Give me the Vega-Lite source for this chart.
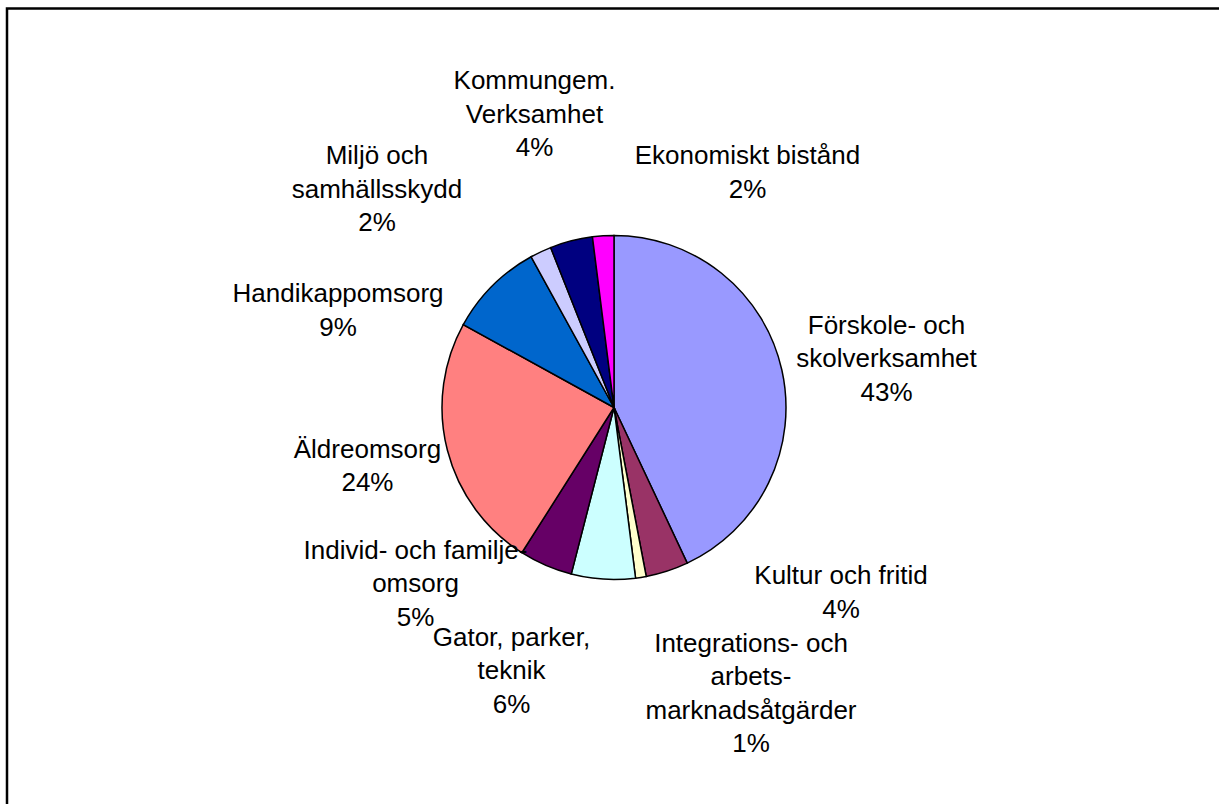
{
  "$schema": "https://vega.github.io/schema/vega-lite/v6.json",
  "autosize": {"type": "none", "contains": "padding"},
  "width": 1219,
  "height": 804,
  "padding": {"left": 7, "top": 8.5, "right": -2, "bottom": -2.5},
  "background": "white",
  "view": {"stroke": "black", "strokeWidth": 2.5, "fill": "white", "strokeDash": [1214, 2012, 798]},
  "config": {"font": "Liberation Sans"},
  "data": {
    "values": [
      {"nr": 1, "kategori": "Förskole- och skolverksamhet", "andel": 43, "etikett": "Förskole- och\nskolverksamhet\n43%"},
      {"nr": 2, "kategori": "Kultur och fritid", "andel": 4, "etikett": "Kultur och fritid\n4%"},
      {"nr": 3, "kategori": "Integrations- och arbetsmarknadsåtgärder", "andel": 1, "etikett": "Integrations- och\narbets-\nmarknadsåtgärder\n1%"},
      {"nr": 4, "kategori": "Gator, parker, teknik", "andel": 6, "etikett": "Gator, parker,\nteknik\n6%"},
      {"nr": 5, "kategori": "Individ- och familjeomsorg", "andel": 5, "etikett": "Individ- och familje-\nomsorg\n5%"},
      {"nr": 6, "kategori": "Äldreomsorg", "andel": 24, "etikett": "Äldreomsorg\n24%"},
      {"nr": 7, "kategori": "Handikappomsorg", "andel": 9, "etikett": "Handikappomsorg\n9%"},
      {"nr": 8, "kategori": "Miljö och samhällsskydd", "andel": 2, "etikett": "Miljö och\nsamhällsskydd\n2%"},
      {"nr": 9, "kategori": "Kommungem. Verksamhet", "andel": 4, "etikett": "Kommungem.\nVerksamhet\n4%"},
      {"nr": 10, "kategori": "Ekonomiskt bistånd", "andel": 2, "etikett": "Ekonomiskt bistånd\n2%"}
    ]
  },
  "layer": [
    {
      "mark": {"type": "arc", "outerRadius": 172, "stroke": "black", "strokeWidth": 1.5},
      "encoding": {
        "theta": {"field": "andel", "type": "quantitative", "stack": true, "scale": {"domain": [0, 100]}},
        "order": {"field": "nr", "type": "quantitative"},
        "color": {
          "field": "kategori",
          "type": "nominal",
          "legend": null,
          "scale": {
            "domain": ["Förskole- och skolverksamhet", "Kultur och fritid", "Integrations- och arbetsmarknadsåtgärder", "Gator, parker, teknik", "Individ- och familjeomsorg", "Äldreomsorg", "Handikappomsorg", "Miljö och samhällsskydd", "Kommungem. Verksamhet", "Ekonomiskt bistånd"],
            "range": ["#9999FF", "#993366", "#FFFFCC", "#CCFFFF", "#660066", "#FF8080", "#0066CC", "#CCCCFF", "#000080", "#FF00FF"]
          }
        }
      }
    },
    {
      "transform": [
        {"stack": "andel", "groupby": [], "sort": [{"field": "nr", "order": "ascending"}], "as": ["andel_fran", "andel_till"]}
      ],
      "mark": {"type": "text", "fontSize": 26, "lineBreak": "\n", "lineHeight": 33.5, "align": "center", "baseline": "middle", "font": "Liberation Sans", "color": "black"},
      "encoding": {
        "theta": {
          "field": "andel_fran",
          "type": "quantitative",
          "stack": null,
          "scale": {
            "type": "linear",
            "domain": [0, 43, 47, 48, 54, 59, 83, 92, 94, 98],
            "range": [1.27933, 2.20941, 2.61607, 3.56047, 4.08722, 4.54362, 5.10247, 5.52693, 6.04408, 6.77188],
            "nice": false,
            "zero": false
          }
        },
        "radius": {
          "field": "nr",
          "type": "quantitative",
          "scale": {
            "type": "linear",
            "domain": [1, 2, 3, 4, 5, 6, 7, 8, 9, 10],
            "range": [284.5, 282.7, 273.1, 252.0, 244.8, 250.1, 298.4, 345.4, 335.8, 284.3],
            "nice": false,
            "zero": false
          }
        },
        "text": {"field": "etikett", "type": "nominal"}
      }
    }
  ],
  "resolve": {"scale": {"theta": "independent", "radius": "independent"}}
}
